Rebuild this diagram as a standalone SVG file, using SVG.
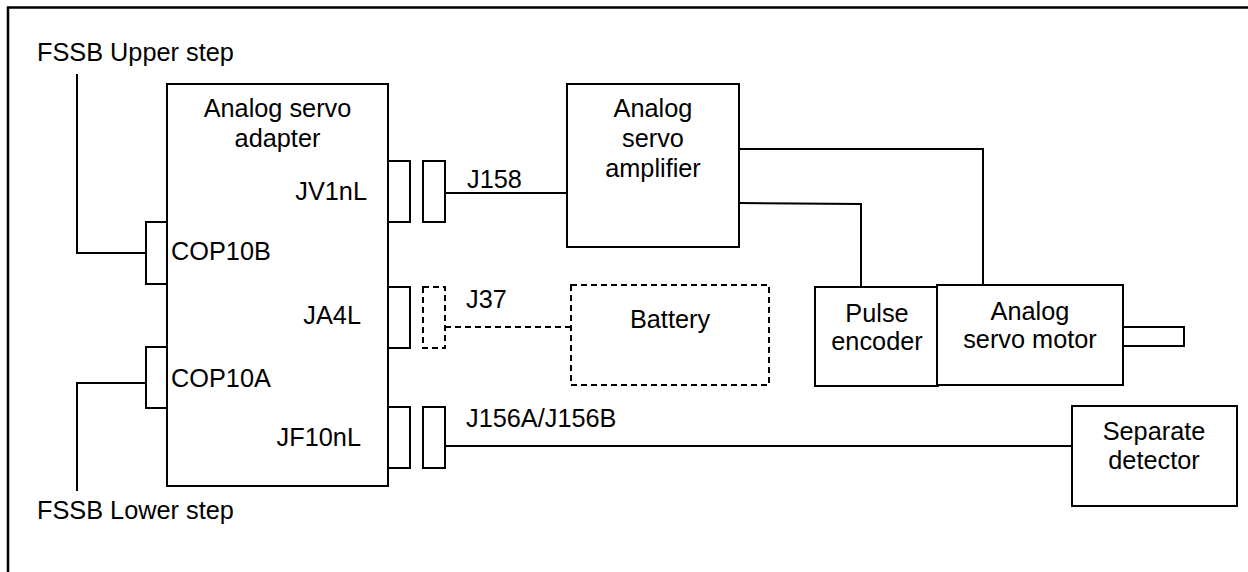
<svg xmlns="http://www.w3.org/2000/svg" width="1248" height="572" viewBox="0 0 1248 572">
<style>
text{font-family:"Liberation Sans",Arial,sans-serif;font-size:25.3px;fill:#000}
.b{fill:#fff;stroke:#000;stroke-width:2}
.d{fill:#fff;stroke:#000;stroke-width:2;stroke-dasharray:6,4}
.l{fill:none;stroke:#000;stroke-width:2}
.dl{fill:none;stroke:#000;stroke-width:2;stroke-dasharray:6,4}
.m{text-anchor:middle}
.e{text-anchor:end}
</style>
<rect width="1248" height="572" fill="#fff"/>
<path d="M8 572 V7.5 H1248" fill="none" stroke="#000" stroke-width="2.5"/>
<g id="connectors">
<polyline class="l" points="77,74 77,253 146,253"/>
<polyline class="l" points="77,491 77,383 146,383"/>
<line class="l" x1="445" y1="193" x2="567" y2="193"/>
<line class="dl" x1="445" y1="327" x2="571" y2="327"/>
<line class="l" x1="445" y1="446" x2="1072" y2="446"/>
<polyline class="l" points="739,149 983,149 983,285"/>
<polyline class="l" points="739,203 861,204 861,287"/>
</g>
<g id="fssb-upper"><text x="37" y="61">FSSB Upper step</text></g>
<g id="fssb-lower"><text x="37" y="519">FSSB Lower step</text></g>
<g id="adapter">
<rect class="b" x="167" y="84" width="221" height="402"/>
<text class="m" x="277.5" y="117">Analog servo</text>
<text class="m" x="277.5" y="147">adapter</text>
<rect class="b" x="146" y="222" width="21" height="62"/>
<text x="171" y="260">COP10B</text>
<rect class="b" x="146" y="347" width="21" height="61"/>
<text x="171" y="387">COP10A</text>
<rect class="b" x="388" y="161" width="22" height="61"/>
<text class="e" x="367" y="200">JV1nL</text>
<rect class="b" x="388" y="287" width="22" height="61"/>
<text class="e" x="361" y="324">JA4L</text>
<rect class="b" x="388" y="407" width="22" height="61"/>
<text class="e" x="361" y="446">JF10nL</text>
</g>
<g id="j158">
<rect class="b" x="423" y="161" width="22" height="61"/>
<text x="467" y="188">J158</text>
</g>
<g id="j37">
<rect class="d" x="423" y="287" width="22" height="61" stroke-dasharray="5,4"/>
<text x="466" y="308">J37</text>
</g>
<g id="j156">
<rect class="b" x="423" y="407" width="22" height="61"/>
<text x="466" y="427">J156A/J156B</text>
</g>
<g id="amplifier">
<rect class="b" x="567" y="84" width="172" height="163"/>
<text class="m" x="653" y="117">Analog</text>
<text class="m" x="653" y="147">servo</text>
<text class="m" x="653" y="177">amplifier</text>
</g>
<g id="battery">
<rect class="d" x="571" y="285" width="198" height="100"/>
<text class="m" x="670" y="328">Battery</text>
</g>
<g id="pulse-encoder">
<rect class="b" x="815" y="287" width="123" height="99"/>
<text class="m" x="877" y="322">Pulse</text>
<text class="m" x="877" y="350">encoder</text>
</g>
<g id="motor">
<rect class="b" x="937" y="285" width="186" height="100"/>
<text class="m" x="1030" y="320">Analog</text>
<text class="m" x="1030" y="348">servo motor</text>
<rect class="b" x="1123" y="327" width="61" height="19"/>
</g>
<g id="separate-detector">
<rect class="b" x="1072" y="406" width="165" height="100"/>
<text class="m" x="1154" y="440">Separate</text>
<text class="m" x="1154" y="469">detector</text>
</g>
</svg>
